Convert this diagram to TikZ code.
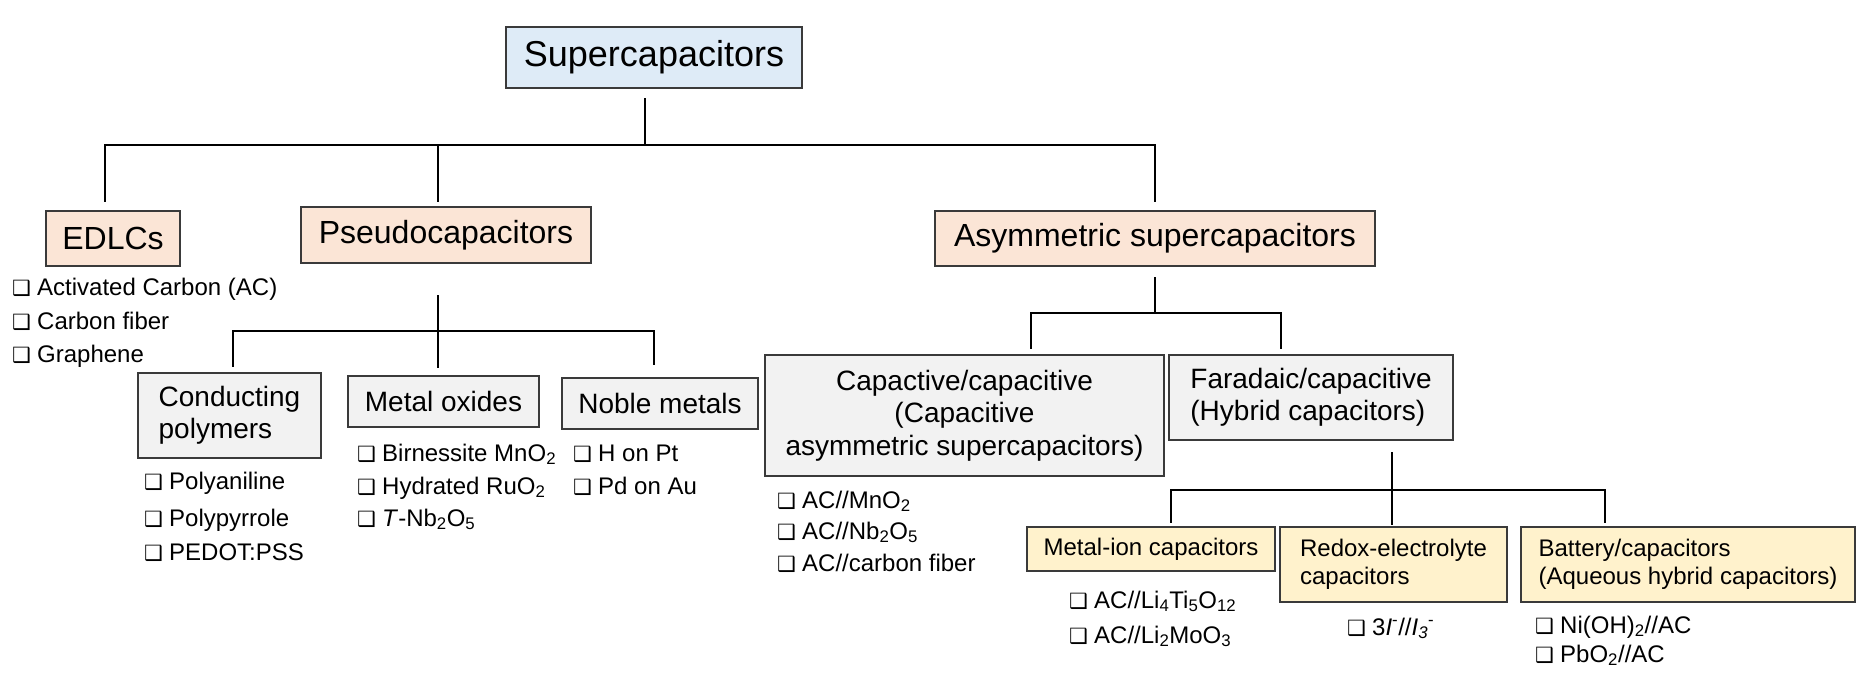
\documentclass[tikz,border=0pt]{standalone}
\usepackage{fontspec}
\setmainfont{Liberation Sans}
\newfontfamily\symfont{DejaVu Sans}

\definecolor{supblue}{HTML}{DEEBF7}
\definecolor{typepeach}{HTML}{FBE5D6}
\definecolor{subgray}{HTML}{F2F2F2}
\definecolor{hybyellow}{HTML}{FFF2CC}
\definecolor{edgegray}{HTML}{3A3A3A}

\newcommand\topsz{\fontsize{36}{41}\selectfont}
\newcommand\mainsz{\fontsize{32}{37}\selectfont}
\newcommand\subsz{\fontsize{28}{32.5}\selectfont}
\newcommand\itemsz{\fontsize{24}{28}\selectfont}
\newcommand\chk{\makebox[25pt][l]{\symfont\fontsize{21}{21}\selectfont ❑}}

\tikzset{
  box/.style 2 args={draw=edgegray, line width=2pt, inner sep=0pt,
    minimum width=#1pt, minimum height=#2pt},
  rootbox/.style={fill=supblue, font=\topsz},
  typebox/.style={fill=typepeach, font=\mainsz},
  subbox/.style={fill=subgray, font=\subsz},
  hybbox/.style={fill=hybyellow, font=\itemsz},
  item/.style={anchor=base west, inner sep=0pt, font=\itemsz},
  link/.style={line width=2.6pt, line cap=rect}
}

\begin{document}
\begin{tikzpicture}[x=1pt,y=-1pt]
    \useasboundingbox (0,0) rectangle (1869,677);

    % boxes
    \node[box={296}{61}, rootbox] (sup) at (654,57.5) {Supercapacitors};
    \node[box={134}{55}, typebox] (edlc) at (113,238.5) {EDLCs};
    \node[box={290}{56}, typebox] (pseudo) at (446,235) {Pseudocapacitors};
    \node[box={440}{55}, typebox] (asym) at (1155,238.5) {Asymmetric supercapacitors};

    \node[box={183}{85}, subbox, align=left] (cond) at (229.5,415.5) {Conducting\\polymers};
    \node[box={191}{51}, subbox] (metox) at (443.5,401.5) {Metal oxides};
    \node[box={196}{51}, subbox] (noble) at (660,403.5) {Noble metals};
    \node[box={399}{121}, subbox, align=center] (capac) at (964.5,415.5) {Capactive/capacitive\\(Capacitive\\asymmetric supercapacitors)};
    \node[box={284}{85}, subbox, align=left] (farad) at (1311,397.5) {Faradaic/capacitive\\(Hybrid capacitors)};

    \node[box={248}{44}, hybbox] (metion) at (1151,549) {Metal-ion capacitors};
    \node[box={227}{75}, hybbox, align=left] (redox) at (1393.5,564.5) {Redox-electrolyte\\capacitors};
    \node[box={334}{75}, hybbox, align=left] (batt) at (1688,564.5) {Battery/capacitors\\(Aqueous hybrid capacitors)};

    % level 1
    \coordinate (hub1) at (645,145);
    \draw[link] ([yshift=-10pt]sup.south -| hub1) -- (hub1);
    \draw[link] (105,145) -- (1155,145);
    \foreach \n/\x/\s in {edlc/105/9, pseudo/438/5, asym/1155/9}
        \draw[link] (\x,145) -- ([yshift=\s pt]\n.north -| \x,0);

    % pseudocapacitors
    \draw[link] ([yshift=-32pt]pseudo.south -| 438,0) -- ([yshift=8pt]metox.north -| 438,0);
    \draw[link] (233,331) -- (654,331);
    \draw[link] (233,331) -- ([yshift=6pt]cond.north -| 233,0);
    \draw[link] (654,331) -- ([yshift=13pt]noble.north -| 654,0);

    % asymmetric
    \draw[link] ([yshift=-11pt]asym.south) -- (1155,313);
    \draw[link] (1031,313) -- (1281,313);
    \draw[link] (1031,313) -- ([yshift=6pt]capac.north -| 1031,0);
    \draw[link] (1281,313) -- ([yshift=6pt]farad.north -| 1281,0);

    % hybrid
    \draw[link] ([yshift=-12pt]farad.south -| 1392,0) -- ([yshift=2pt]redox.north -| 1392,0);
    \draw[link] (1171,490) -- (1605,490);
    \draw[link] (1171,490) -- ([yshift=4pt]metion.north -| 1171,0);
    \draw[link] (1605,490) -- ([yshift=4pt]batt.north -| 1605,0);

    % lists
    \node[item] (ac) at (12,295) {\chk Activated Carbon (AC)};
    \node[item] (cf) at (12,329) {\chk Carbon fiber};
    \node[item] (gr) at (12,362) {\chk Graphene};

    \node[item] (pani) at (144,489) {\chk Polyaniline};
    \node[item] (ppy) at (144,526) {\chk Polypyrrole};
    \node[item] (pedot) at (144,560) {\chk PEDOT:PSS};

    \node[item] (mno) at (357,461) {\chk Birnessite MnO\textsubscript{2}};
    \node[item] (ruo) at (357,494) {\chk Hydrated RuO\textsubscript{2}};
    \node[item] (nbo) at (357,526) {\chk \textit{T}-Nb\textsubscript{2}O\textsubscript{5}};

    \node[item] (hpt) at (573,461) {\chk H on Pt};
    \node[item] (pdau) at (573,494) {\chk Pd on Au};

    \node[item] (acmn) at (777,508) {\chk AC//MnO\textsubscript{2}};
    \node[item] (acnb) at (777,539) {\chk AC//Nb\textsubscript{2}O\textsubscript{5}};
    \node[item] (accf) at (777,571) {\chk AC//carbon fiber};

    \node[item] (acli) at (1069,608) {\chk AC//Li\textsubscript{4}Ti\textsubscript{5}O\textsubscript{12}};
    \node[item] (acmo) at (1069,643) {\chk AC//Li\textsubscript{2}MoO\textsubscript{3}};

    \node[item] (iod) at (1347,635) {\chk 3\textit{I}\textsuperscript{-}//\textit{I\textsubscript{3}}\textsuperscript{-}};

    \node[item] (nioh) at (1535,633) {\chk Ni(OH)\textsubscript{2}//AC};
    \node[item] (pbo) at (1535,662) {\chk PbO\textsubscript{2}//AC};
\end{tikzpicture}
\end{document}
